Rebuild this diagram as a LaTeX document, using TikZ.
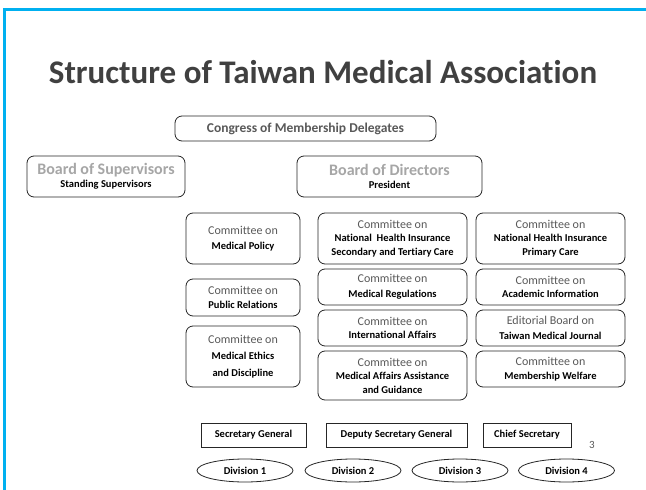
\documentclass[tikz,border=0pt]{standalone}
\usepackage{fontspec}
\setmainfont{Carlito}[Ligatures=NoCommon]
\usetikzlibrary{shapes.geometric}
\definecolor{frameblue}{HTML}{00B0F0}
\definecolor{titlegray}{HTML}{404040}
\definecolor{midgray}{HTML}{595959}
\definecolor{lightgray2}{HTML}{A6A6A6}
\definecolor{edge}{HTML}{262626}
\newcommand{\cmton}[1]{{\mdseries\color{midgray}\fontsize{12}{14}\selectfont #1}}
\begin{document}
\begin{tikzpicture}[x=1pt,y=-1pt,
  cbox/.style={draw=edge,line width=0.8pt,rounded corners=7pt,align=center,inner sep=0pt,
    font=\fontsize{10.5}{13.5}\selectfont\bfseries},
  sbox/.style={draw=edge,line width=0.8pt,align=center,inner sep=0pt,minimum height=24pt,
    font=\fontsize{10.5}{13.5}\selectfont\bfseries},
  dbox/.style={draw=edge,line width=0.8pt,ellipse,inner sep=0pt,minimum width=96pt,minimum height=23pt,
    font=\fontsize{10.5}{13.5}\selectfont\bfseries},
  c1/.style={cbox,minimum width=114pt},
  c2/.style={cbox,minimum width=149pt}]
\fill[white] (0,0) rectangle (646,490);
\useasboundingbox (0,0) rectangle (646,490);
\draw[frameblue,line width=3pt] (4.5,491) -- (4.5,9.5) -- (647,9.5);
\node[font=\fontsize{33}{36}\selectfont\bfseries,text=titlegray] (title) at (323,72) {Structure of Taiwan Medical Association};
\node[cbox,minimum width=261pt,minimum height=25pt,font=\fontsize{13.5}{16}\selectfont\bfseries,text=midgray] (congress) at (305.5,128.5) {Congress of Membership Delegates};
\node[cbox,minimum width=158pt,minimum height=41pt] (sup) at (106,176.5)
  {{\color{lightgray2}\fontsize{16}{18}\selectfont Board of Supervisors}\\[-1pt]Standing Supervisors};
\node[cbox,minimum width=185pt,minimum height=41pt] (dir) at (389.5,176.5)
  {{\color{lightgray2}\fontsize{16}{18}\selectfont Board of Directors}\\[-1pt]President};
% column 1
\node[c1,minimum height=51pt] (pol) at (243,238.5) {\cmton{Committee on}\\[2pt]Medical Policy};
\node[c1,minimum height=37pt] (pr) at (243,297.5) {\cmton{Committee on}\\[0pt]Public Relations};
\node[c1,minimum height=61pt] (eth) at (243,356.5) {\cmton{Committee on}\\[3pt]Medical Ethics\\[3pt]and Discipline};
% column 2
\node[c2,minimum height=51pt] (nhis) at (392.5,238.5) {\cmton{Committee on}\\National\ \ Health Insurance\\Secondary and Tertiary Care};
\node[c2,minimum height=36pt] (reg) at (392.5,287) {\cmton{Committee on}\\[1pt]Medical Regulations};
\node[c2,minimum height=36pt] (intl) at (392.5,328) {\cmton{Committee on}\\International Affairs};
\node[c2,minimum height=49pt] (maa) at (392.5,375.5) {\cmton{Committee on}\\Medical Affairs Assistance\\and Guidance};
% column 3
\node[c2,minimum height=51pt] (nhip) at (550.5,238.5) {\cmton{Committee on}\\National Health Insurance\\Primary Care};
\node[c2,minimum height=36pt] (acad) at (550.5,287) {\cmton{Committee on}\\Academic Information};
\node[c2,minimum height=36pt] (edit) at (550.5,328) {\cmton{Editorial Board on}\\[1pt]Taiwan Medical Journal};
\node[c2,minimum height=36pt] (wel) at (550.5,369) {\cmton{Committee on}\\Membership Welfare};
% secretariat
\node[sbox,minimum width=105pt] (sg) at (253.5,435) {Secretary General};
\node[sbox,minimum width=141pt] (dsg) at (396.5,435) {Deputy Secretary General};
\node[sbox,minimum width=88pt] (cs) at (527,435) {Chief Secretary};
% divisions
\node[dbox] (d1) at (245,470.5) {Division 1};
\node[dbox] (d2) at (353,470.5) {Division 2};
\node[dbox] (d3) at (460,470.5) {Division 3};
\node[dbox] (d4) at (566.5,470.5) {Division 4};
\node[font=\fontsize{11}{13}\selectfont,text=midgray] (pg) at (592,445) {3};
\end{tikzpicture}
\end{document}
